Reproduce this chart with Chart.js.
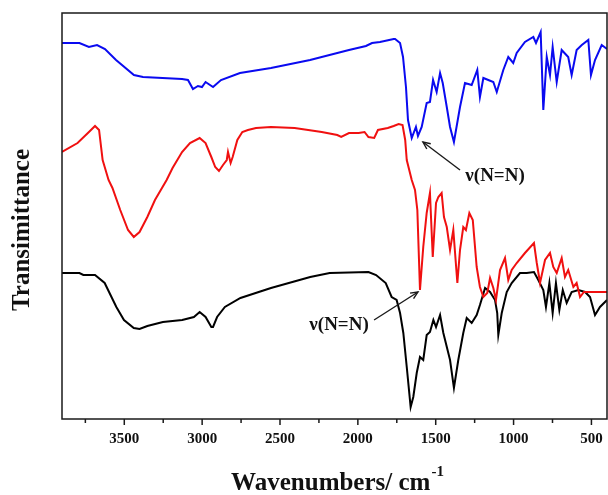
<!DOCTYPE html>
<html>
<head>
<meta charset="utf-8">
<script src="https://cdn.jsdelivr.net/npm/chart.js@4/dist/chart.umd.min.js"></script>
<style>
  html, body { margin: 0; padding: 0; background: #ffffff; overflow: hidden; }
  #wrap { width: 608px; height: 495px; }
</style>
</head>
<body>
<div id="wrap"><canvas id="c" width="608" height="495"></canvas></div>
<script>
// ---- data (wavenumber in cm-1, transmittance in arbitrary offset units) ----
const blueWn = [3900,3788,3727,3675,3624,3553,3438,3380,3129,3091,3059,3027,3001,2978,2930,2879,2757,2558,2307,2057,1948,1909,1858,1770,1761,1729,1710,1691,1678,1654,1627,1614,1590,1558,1537,1517,1494,1472,1455,1429,1408,1383,1344,1312,1269,1233,1216,1194,1130,1108,1066,1034,1002,980,927,873,856,826,809,787,766,749,723,691,649,627,595,562,520,503,477,434,400];
const blueT  = [376,376,372,374,370,359,344,342,340,339,330,333,332,337,332,339,346,351,359,369,373,376,377,380,380,376,362,332,299,281,292,283,292,316,317,339,327,346,336,312,292,277,312,336,334,349,322,341,337,327,349,362,356,366,377,382,376,387,309,362,344,372,337,369,362,344,369,374,379,344,359,374,370];

const redWn = [3900,3800,3727,3688,3662,3639,3601,3576,3526,3476,3439,3402,3352,3303,3228,3190,3129,3078,3016,2978,2941,2916,2892,2866,2842,2834,2817,2804,2774,2742,2706,2654,2558,2406,2232,2132,2107,2057,1995,1957,1932,1895,1871,1808,1770,1738,1713,1696,1686,1654,1633,1618,1601,1580,1558,1537,1519,1498,1483,1462,1447,1429,1408,1387,1361,1344,1323,1306,1284,1262,1237,1216,1194,1169,1151,1130,1113,1087,1055,1034,1012,980,927,869,851,830,798,766,745,723,691,670,649,616,595,573,548,488,400];
const redT  = [267,276,287,293,289,259,239,231,209,189,182,187,202,219,239,251,267,276,281,276,262,252,248,254,259,267,256,262,279,287,289,291,292,291,287,284,282,286,286,287,282,281,289,291,293,295,294,279,259,239,229,209,129,172,206,226,162,216,222,226,202,192,169,189,136,169,192,189,206,199,152,132,122,126,141,131,119,149,161,139,149,156,166,176,156,136,159,166,152,146,161,142,149,132,136,122,127,127,127];

const blackWn = [3900,3788,3763,3688,3626,3551,3502,3439,3402,3352,3252,3128,3053,3016,2978,2941,2930,2904,2854,2754,2558,2306,2181,1932,1883,1821,1783,1751,1729,1708,1686,1661,1644,1622,1601,1580,1558,1537,1515,1498,1472,1451,1408,1383,1355,1323,1301,1269,1237,1216,1183,1151,1119,1105,1098,1076,1044,1012,959,916,869,841,809,792,770,749,728,706,684,659,627,584,541,509,477,445,400];
const blackT  = [146,146,144,144,136,112,99,91,90,93,97,99,102,107,102,92,92,102,112,121,131,142,146,147,144,136,122,119,106,86,52,12,22,46,62,59,84,87,99,92,104,86,59,31,59,86,101,96,104,114,131,127,119,106,84,106,127,136,146,146,147,139,129,112,136,106,136,109,129,116,127,129,127,122,104,112,119];

const tickLabels = [3500, 3000, 2500, 2000, 1500, 1000, 500];
const minorTicks = [3750, 3250, 2750, 2250, 1750, 1250, 750];

const xTitle = 'Wavenumbers/ cm';
const xTitleSup = '-1';
const yTitle = 'Transimittance';
const annoText = 'ν(N=N)';
// annotation anchors in data units: text centre, arrow tail, arrow tip
const annotations = [
  { tx: 1119, ty: 243, x0: 1344, y0: 249, x1: 1582, y1: 277 },
  { tx: 2121, ty: 94,  x0: 1896, y0: 99,  x1: 1614, y1: 127 }
];

const toPts = (wn, t) => wn.map((w, i) => ({ x: w, y: t[i] }));
const SERIF = '"Liberation Serif", "Times New Roman", serif';

const decor = {
  id: 'decor',
  afterDatasetsDraw(chart) {
    const { ctx, chartArea: a, scales: { x, y } } = chart;
    ctx.save();
    // frame
    ctx.strokeStyle = '#1a1a1a';
    ctx.lineWidth = 1.5;
    ctx.strokeRect(a.left, a.top, a.right - a.left, a.bottom - a.top);
    // ticks
    [...tickLabels, ...minorTicks].forEach(v => {
      const px = x.getPixelForValue(v);
      const len = tickLabels.includes(v) ? 6 : 4;
      ctx.beginPath();
      ctx.moveTo(px, a.bottom);
      ctx.lineTo(px, a.bottom + len);
      ctx.stroke();
    });
    // y title
    ctx.fillStyle = '#111';
    ctx.font = 'bold 25px ' + SERIF;
    ctx.save();
    ctx.translate(23, (a.top + a.bottom) / 2 + 14);
    ctx.rotate(-Math.PI / 2);
    ctx.textAlign = 'center';
    ctx.textBaseline = 'middle';
    ctx.fillText(yTitle, 0, 0);
    ctx.restore();
    // x title with superscript
    ctx.font = 'bold 25px ' + SERIF;
    const w1 = ctx.measureText(xTitle).width;
    ctx.font = 'bold 15px ' + SERIF;
    const w2 = ctx.measureText(xTitleSup).width;
    const cx = (a.left + a.right) / 2 + 3;
    const start = cx - (w1 + w2 + 1) / 2;
    ctx.textAlign = 'left';
    ctx.textBaseline = 'alphabetic';
    ctx.font = 'bold 25px ' + SERIF;
    ctx.fillText(xTitle, start, 490);
    ctx.font = 'bold 15px ' + SERIF;
    ctx.fillText(xTitleSup, start + w1 + 1, 476);
    // annotations
    ctx.font = 'bold 19px ' + SERIF;
    ctx.textAlign = 'center';
    ctx.textBaseline = 'middle';
    ctx.lineWidth = 1.4;
    annotations.forEach(an => {
      ctx.fillText(annoText, x.getPixelForValue(an.tx), y.getPixelForValue(an.ty));
      const px0 = x.getPixelForValue(an.x0), py0 = y.getPixelForValue(an.y0);
      const px1 = x.getPixelForValue(an.x1), py1 = y.getPixelForValue(an.y1);
      ctx.beginPath();
      ctx.moveTo(px0, py0);
      ctx.lineTo(px1, py1);
      ctx.stroke();
      const ang = Math.atan2(py1 - py0, px1 - px0);
      const L = 8, spread = 0.42;
      ctx.beginPath();
      ctx.moveTo(px1 - L * Math.cos(ang - spread), py1 - L * Math.sin(ang - spread));
      ctx.lineTo(px1, py1);
      ctx.lineTo(px1 - L * Math.cos(ang + spread), py1 - L * Math.sin(ang + spread));
      ctx.stroke();
    });
    ctx.restore();
  }
};

new Chart(document.getElementById('c'), {
  type: 'line',
  data: {
    datasets: [
      { label: 'blue', data: toPts(blueWn, blueT), borderColor: '#0a0af0', borderWidth: 2, pointRadius: 0, tension: 0, fill: false },
      { label: 'red', data: toPts(redWn, redT), borderColor: '#f01010', borderWidth: 2, pointRadius: 0, tension: 0, fill: false },
      { label: 'black', data: toPts(blackWn, blackT), borderColor: '#000000', borderWidth: 2, pointRadius: 0, tension: 0, fill: false }
    ]
  },
  options: {
    responsive: false,
    animation: false,
    devicePixelRatio: 1,
    layout: { padding: { left: 62, top: 13, right: 1, bottom: 0 } },
    plugins: { legend: { display: false }, tooltip: { enabled: false } },
    scales: {
      x: {
        type: 'linear',
        reverse: true,
        min: 400,
        max: 3900,
        afterBuildTicks: (scale) => {
          scale.ticks = [...tickLabels, ...minorTicks].sort((p, q) => p - q).map(v => ({ value: v }));
        },
        afterFit: (scale) => { scale.height = 76; },
        grid: { display: false, drawTicks: false },
        border: { display: false },
        ticks: {
          autoSkip: false,
          maxRotation: 0,
          padding: 11,
          color: '#111',
          font: { family: SERIF, size: 15, weight: 'bold' },
          callback: (v) => tickLabels.includes(v) ? String(v) : ''
        }
      },
      y: {
        display: false,
        min: 0,
        max: 406
      }
    }
  },
  plugins: [decor]
});
</script>
</body>
</html>
